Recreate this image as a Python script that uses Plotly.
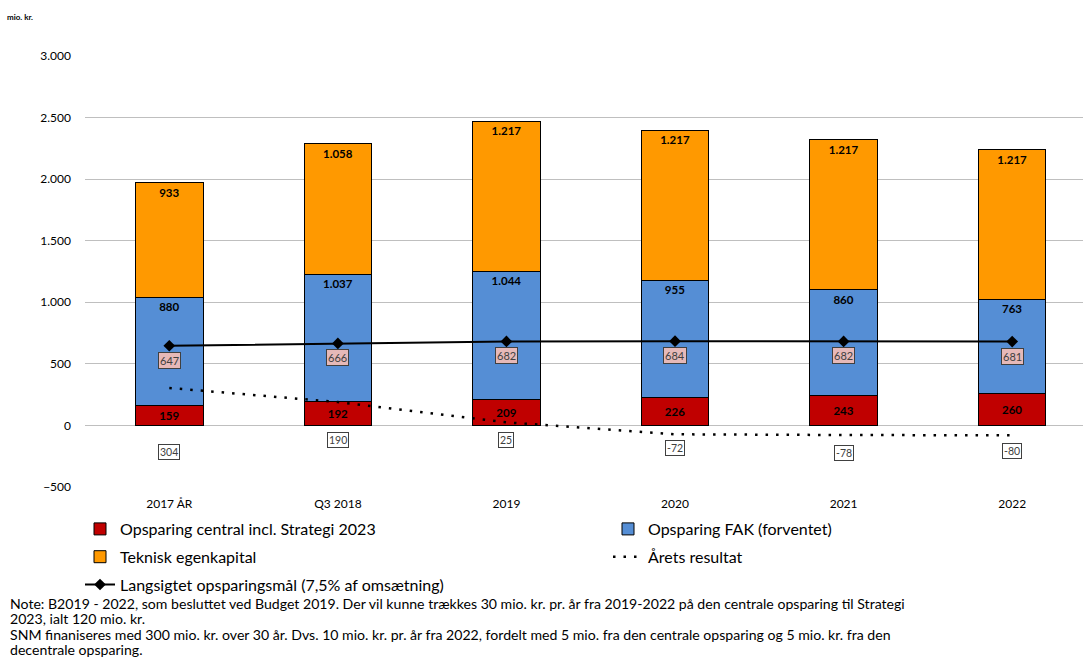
import plotly.graph_objects as go

categories = ["2017 ÅR", "Q3 2018", "2019", "2020", "2021", "2022"]
central = [159, 192, 209, 226, 243, 260]
fak = [880, 1037, 1044, 955, 860, 763]
teknisk = [933, 1058, 1217, 1217, 1217, 1217]
resultat = [304, 190, 25, -72, -78, -80]
maal = [647, 666, 682, 684, 682, 681]

# pixel offsets of the "Årets resultat" labels below their points
resultat_label_shift = [-56, -30, -10, -6, -10, -8]

FONT = "Lato"

fig = go.Figure()

bar_common = dict(width=0.40, marker_line=dict(color="black", width=1),
                  texttemplate="<b>%{y:,}</b>", textfont=dict(family=FONT, size=11.5, color="black"),
                  textposition="inside", cliponaxis=False)

fig.add_trace(go.Bar(x=categories, y=central, name="Opsparing central incl. Strategi 2023",
                     marker_color="#c00000", insidetextanchor="middle",
                     legend="legend", legendgroup="a", **bar_common))
fig.add_trace(go.Bar(x=categories, y=fak, name="Opsparing FAK (forventet)",
                     marker_color="#558ed5", insidetextanchor="end",
                     legend="legend2", legendgroup="b", **bar_common))
fig.add_trace(go.Bar(x=categories, y=teknisk, name="Teknisk egenkapital",
                     marker_color="#ff9900", insidetextanchor="end",
                     legend="legend", legendgroup="c", **bar_common))
fig.add_trace(go.Scatter(x=categories, y=resultat, name="Årets resultat", mode="lines",
                         line=dict(color="black", width=2.5, dash="2.5px,8px"),
                         legend="legend2", legendgroup="d"))
fig.add_trace(go.Scatter(x=categories, y=maal, name="Langsigtet opsparingsmål (7,5% af omsætning)",
                         mode="lines+markers",
                         line=dict(color="black", width=2),
                         marker=dict(symbol="diamond", size=9, color="black"),
                         legend="legend", legendgroup="e"))

for i, v in enumerate(maal):
    fig.add_annotation(x=i, y=v, text=str(v), showarrow=False, yanchor="top", yshift=-6,
                       font=dict(family=FONT, size=11, color="#404040"),
                       bgcolor="#e6b9b8", bordercolor="#404040", borderwidth=1, borderpad=1)

for i, (v, s) in enumerate(zip(resultat, resultat_label_shift)):
    fig.add_annotation(x=i, y=v, text=str(v), showarrow=False, yanchor="top", yshift=s,
                       font=dict(family=FONT, size=10.5, color="#404040"),
                       bgcolor="white", bordercolor="#404040", borderwidth=1, borderpad=1)

fig.add_annotation(xref="paper", yref="paper", x=-80/998, y=1 + 39/431, xanchor="left", yanchor="middle",
                   text="<b>mio. kr.</b>", showarrow=False, font=dict(family=FONT, size=8, color="black"))

note_lines = [
    "Note: B2019 - 2022, som besluttet ved Budget 2019. Der vil kunne trækkes 30 mio. kr. pr. år fra 2019-2022 på den centrale opsparing til Strategi",
    "2023, ialt 120 mio. kr.",
    "SNM finaniseres med 300 mio. kr. over 30 år. Dvs. 10 mio. kr. pr. år fra 2022, fordelt med 5 mio. fra den centrale opsparing og 5 mio. kr. fra den",
    "decentrale opsparing.",
]
for k, line in enumerate(note_lines):
    ypix = 603 + 15.5 * k
    fig.add_annotation(xref="paper", yref="paper", x=-77/998, y=-(ypix - 487) / 431,
                       xanchor="left", yanchor="middle", align="left", text=line, showarrow=False,
                       font=dict(family=FONT, size=14.1, color="black"))

legend_common = dict(orientation="v", xanchor="left", yanchor="top", traceorder="grouped",
                     tracegroupgap=4, font=dict(family=FONT, size=16, color="black"),
                     bgcolor="rgba(0,0,0,0)", itemclick=False, itemdoubleclick=False)

fig.update_layout(
    width=1083, height=659,
    margin=dict(l=85, r=0, t=56, b=172),
    barmode="stack",
    separators=",.",
    plot_bgcolor="white", paper_bgcolor="white",
    font=dict(family=FONT, size=12, color="black"),
    legend=dict(x=-0.005, y=-(512 - 487) / 431, **legend_common),
    legend2=dict(x=(608 - 85) / 998, y=-(512 - 487) / 431, **legend_common),
    xaxis=dict(type="category", range=[-0.5, 5.42], showgrid=False, showline=False, ticks="",
               tickfont=dict(family=FONT, size=12, color="black"), ticklabelstandoff=8),
    yaxis=dict(range=[-500, 3000], tickvals=[-500, 0, 500, 1000, 1500, 2000, 2500, 3000],
               tickformat=",", showgrid=True, gridcolor="#bfbfbf", gridwidth=1,
               zeroline=True, zerolinecolor="#bfbfbf", zerolinewidth=1,
               tickfont=dict(family=FONT, size=12, color="black"), ticklabelstandoff=13),
)

fig.write_html("out.html")
